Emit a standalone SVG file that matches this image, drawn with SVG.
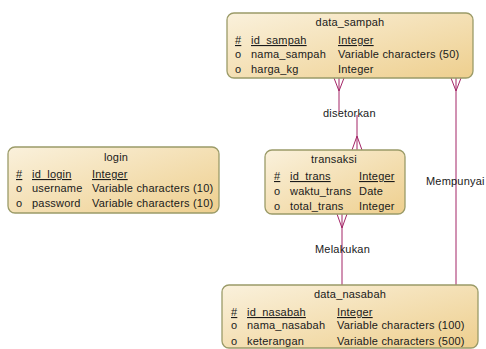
<svg xmlns="http://www.w3.org/2000/svg" width="486" height="349" viewBox="0 0 486 349">
<defs>
<linearGradient id="fillG" x1="0" y1="0" x2="1" y2="1">
<stop offset="0" stop-color="#faf1dc"/>
<stop offset="1" stop-color="#eecf8e"/>
</linearGradient>
</defs>
<style>
.box{fill:url(#fillG);stroke:#9b9b68;stroke-width:1.3}
text{font-family:"Liberation Sans",Arial,sans-serif;font-size:11px;letter-spacing:0.2px;fill:#1a1a1a}
.t{text-anchor:middle}
.u{text-decoration:underline}
.c{fill:none;stroke:#a32466;stroke-width:1}
</style>
<rect width="486" height="349" fill="#ffffff"/>
<g id="connectors">
<path class="c" d="M339 78V112"/>
<path class="c" d="M334 78L339 91L344 78"/>
<path class="c" d="M357 115V150"/>
<path class="c" d="M352 150L357 136L362 150"/>
<path class="c" d="M456 78V285"/>
<path class="c" d="M451 78L456 91L461 78"/>
<path class="c" d="M342 214V285"/>
<path class="c" d="M337 214L342 228L347 214"/>
<text x="323" y="117">disetorkan</text>
<text x="426" y="185">Mempunyai</text>
<text x="315" y="253">Melakukan</text>
</g>
<g id="data_sampah">
<rect class="box" x="227" y="13" width="246" height="65" rx="7"/>
<text class="t" x="350" y="26">data_sampah</text>
<text class="u" x="235" y="44">#</text>
<text class="u" x="251" y="44">id_sampah</text>
<text class="u" x="338" y="44">Integer</text>
<text x="235" y="58">o</text>
<text x="251" y="58">nama_sampah</text>
<text x="338" y="58">Variable characters (50)</text>
<text x="235" y="73">o</text>
<text x="251" y="73">harga_kg</text>
<text x="338" y="73">Integer</text>
</g>
<g id="login">
<rect class="box" x="8" y="147" width="211" height="66" rx="7"/>
<text class="t" x="116" y="161">login</text>
<text class="u" x="16" y="178">#</text>
<text class="u" x="32" y="178">id_login</text>
<text class="u" x="92" y="178">Integer</text>
<text x="16" y="192">o</text>
<text x="32" y="192">username</text>
<text x="92" y="192">Variable characters (10)</text>
<text x="16" y="207">o</text>
<text x="32" y="207">password</text>
<text x="92" y="207">Variable characters (10)</text>
</g>
<g id="transaksi">
<rect class="box" x="265" y="150" width="140" height="64" rx="7"/>
<text class="t" x="334" y="163">transaksi</text>
<text class="u" x="274" y="180">#</text>
<text class="u" x="290" y="180">id_trans</text>
<text class="u" x="359" y="180">Integer</text>
<text x="274" y="195">o</text>
<text x="290" y="195">waktu_trans</text>
<text x="359" y="195">Date</text>
<text x="274" y="210">o</text>
<text x="290" y="210">total_trans</text>
<text x="359" y="210">Integer</text>
</g>
<g id="data_nasabah">
<rect class="box" x="222" y="285" width="256" height="63" rx="7"/>
<text class="t" x="350" y="298">data_nasabah</text>
<text class="u" x="231" y="316">#</text>
<text class="u" x="247" y="316">id_nasabah</text>
<text class="u" x="337" y="316">Integer</text>
<text x="231" y="329">o</text>
<text x="247" y="329">nama_nasabah</text>
<text x="337" y="329">Variable characters (100)</text>
<text x="231" y="345">o</text>
<text x="247" y="345">keterangan</text>
<text x="337" y="345">Variable characters (500)</text>
</g>
</svg>
